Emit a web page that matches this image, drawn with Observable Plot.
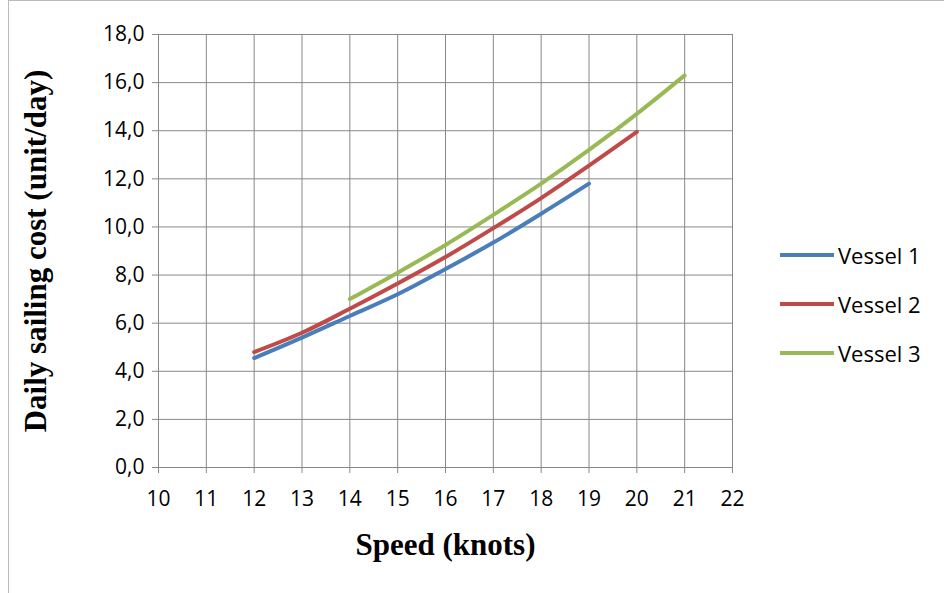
<!DOCTYPE html>
<html><head><meta charset="utf-8">
<script src="https://cdn.jsdelivr.net/npm/d3@7"></script>
<script src="https://cdn.jsdelivr.net/npm/@observablehq/plot@0.6"></script>
<style>
body{margin:0;background:#fff}
#wrap{position:relative;width:944px;height:593px}
#frame{position:absolute;left:8px;top:0;width:940px;height:600px;border:1px solid #bbb;box-sizing:border-box}
#legend{position:absolute;left:780px;top:230px;font-family:"Open Sans",sans-serif;font-size:22px}
#legend div{display:flex;align-items:center;height:49px}
#legend span{display:inline-block;width:54px;height:4px;margin-right:4px}
</style></head>
<body><div id="wrap"><div id="frame"></div><div id="chart"></div><div id="legend"></div></div>
<script>
const series = ["Vessel 1", "Vessel 2", "Vessel 3"];
const colors = ["#4a7ebb", "#be4b48", "#98b954"];
const v1speed = [12, 13, 14, 15, 16, 17, 18, 19];
const v1cost = [4.55, 5.4, 6.3, 7.2, 8.25, 9.35, 10.55, 11.8];
const v2speed = [12, 13, 14, 15, 16, 17, 18, 19, 20];
const v2cost = [4.8, 5.6, 6.6, 7.65, 8.75, 9.95, 11.2, 12.55, 13.95];
const v3speed = [14, 15, 16, 17, 18, 19, 20, 21];
const v3cost = [7.0, 8.1, 9.25, 10.5, 11.8, 13.2, 14.7, 16.3];

const rows = [];
[[v1speed, v1cost], [v2speed, v2cost], [v3speed, v3cost]].forEach(([s, c], i) =>
  s.forEach((x, j) => rows.push({vessel: series[i], speed: x, cost: c[j]})));

const fmt = d => d.toFixed(1).replace(".", ",");

let chart = Plot.plot({
  width: 944, height: 593,
  marginLeft: 158, marginRight: 212, marginTop: 34, marginBottom: 126,
  style: {fontFamily: "'Open Sans', sans-serif", color: "#000", background: "transparent"},
  x: {domain: [10, 22], label: null},
  y: {domain: [0, 18], label: null},
  color: {domain: series, range: colors},
  marks: [
    Plot.gridX(d3.range(10, 23), {stroke: "#888", strokeOpacity: 1}),
    Plot.gridY(d3.range(0, 19, 2), {stroke: "#888", strokeOpacity: 1}),
    Plot.frame({stroke: "#888"}),
    Plot.axisX({ticks: d3.range(10, 23), tickSize: 6, tickPadding: 18, stroke: "#888", fontSize: 21, label: null}),
    Plot.axisY({ticks: d3.range(0, 19, 2), tickFormat: fmt, tickSize: 6, tickPadding: 8, stroke: "#888", fontSize: 21, label: null}),
    Plot.line(rows, {x: "speed", y: "cost", z: "vessel", stroke: "vessel", strokeWidth: 4, curve: "catmull-rom"}),
    Plot.text(["Speed (knots)"], {frameAnchor: "bottom", dy: 87, text: d => d, fontFamily: "'Liberation Serif', serif", fontWeight: "bold", fontSize: 31}),
    Plot.text(["Daily sailing cost (unit/day)"], {frameAnchor: "left", textAnchor: "middle", dx: -122, rotate: -90, text: d => d, fontFamily: "'Liberation Serif', serif", fontWeight: "bold", fontSize: 31})
  ]
});
d3.select("#chart").append(() => chart);
const lg = d3.select("#legend");
series.forEach((s, i) => {
  const r = lg.append("div");
  r.append("span").style("background", colors[i]);
  r.append("text").text(s);
});
</script></body></html>
